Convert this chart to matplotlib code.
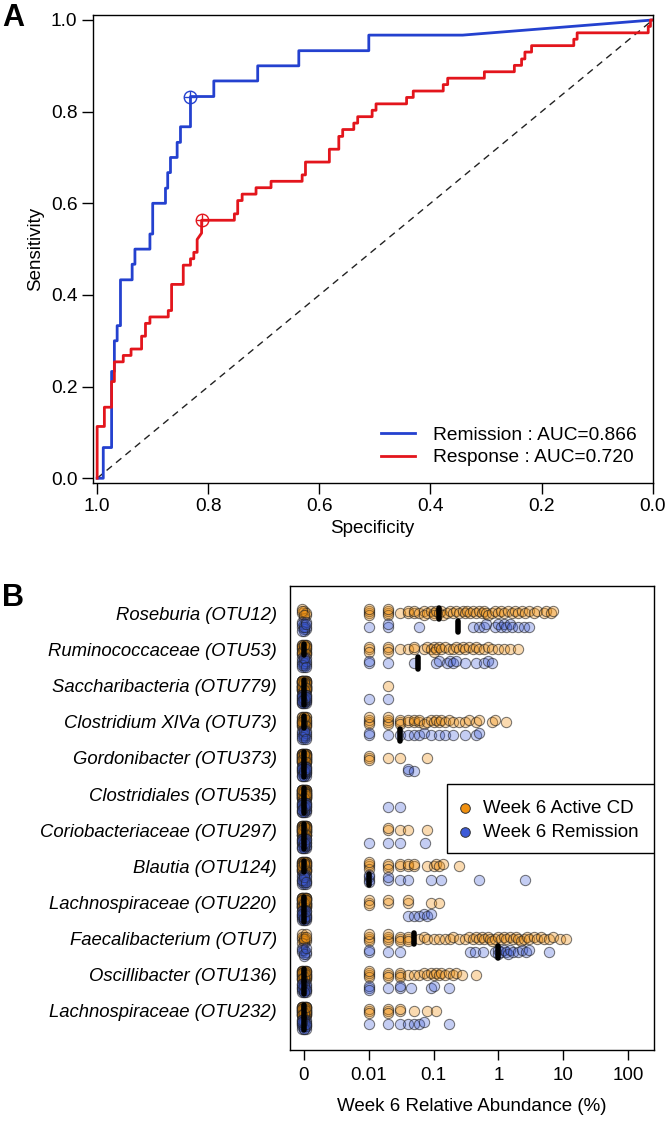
import numpy as np
import matplotlib
matplotlib.use("Agg")
import matplotlib.pyplot as plt
from matplotlib.patches import Rectangle

plt.rcParams['font.family'] = ['Liberation Sans', 'DejaVu Sans']

# ---------------- Panel A: ROC curves (specificity, sensitivity) ----------------
rem_spec = [1.0, 0.989, 0.989, 0.974, 0.974, 0.969, 0.969, 0.964, 0.964, 0.958, 0.958,
            0.937, 0.937, 0.932, 0.932, 0.905, 0.905, 0.900, 0.900, 0.877, 0.877,
            0.873, 0.873, 0.868, 0.868, 0.856, 0.856, 0.850, 0.850, 0.832, 0.832,
            0.790, 0.790, 0.711, 0.711, 0.637, 0.637, 0.511, 0.511, 0.342, 0.0]
rem_sens = [0.0, 0.0, 0.067, 0.067, 0.233, 0.233, 0.300, 0.300, 0.333, 0.333, 0.433,
            0.433, 0.467, 0.467, 0.500, 0.500, 0.533, 0.533, 0.600, 0.600, 0.633,
            0.633, 0.667, 0.667, 0.700, 0.700, 0.733, 0.733, 0.767, 0.767, 0.833,
            0.833, 0.867, 0.867, 0.900, 0.900, 0.933, 0.933, 0.967, 0.967, 1.0]

resp_spec = [1.0, 1.0, 0.987, 0.987, 0.974, 0.974, 0.969, 0.969, 0.953, 0.953, 0.939,
             0.939, 0.920, 0.920, 0.913, 0.913, 0.905, 0.905, 0.872, 0.872, 0.866,
             0.866, 0.845, 0.845, 0.832, 0.832, 0.826, 0.826, 0.820, 0.820, 0.812,
             0.812, 0.753, 0.753, 0.747, 0.747, 0.739, 0.739, 0.714, 0.714, 0.687,
             0.687, 0.631, 0.631, 0.625, 0.625, 0.582, 0.582, 0.565, 0.565, 0.558,
             0.558, 0.538, 0.538, 0.531, 0.531, 0.505, 0.505, 0.498, 0.498, 0.443,
             0.443, 0.431, 0.431, 0.377, 0.377, 0.369, 0.369, 0.303, 0.303, 0.249,
             0.249, 0.236, 0.236, 0.230, 0.230, 0.218, 0.218, 0.142, 0.142, 0.136,
             0.136, 0.008, 0.008, 0.004, 0.004, 0.0]
resp_sens = [0.0, 0.113, 0.113, 0.155, 0.155, 0.211, 0.211, 0.254, 0.254, 0.268, 0.268,
             0.282, 0.282, 0.310, 0.310, 0.338, 0.338, 0.352, 0.352, 0.366, 0.366,
             0.423, 0.423, 0.465, 0.465, 0.479, 0.479, 0.493, 0.493, 0.521, 0.535,
             0.563, 0.563, 0.577, 0.577, 0.606, 0.606, 0.620, 0.620, 0.634, 0.634,
             0.648, 0.648, 0.662, 0.662, 0.690, 0.690, 0.718, 0.718, 0.746, 0.746,
             0.761, 0.761, 0.775, 0.775, 0.789, 0.789, 0.803, 0.803, 0.817, 0.817,
             0.831, 0.831, 0.845, 0.845, 0.859, 0.859, 0.873, 0.873, 0.887, 0.887,
             0.901, 0.901, 0.915, 0.915, 0.930, 0.930, 0.944, 0.944, 0.958, 0.958,
             0.972, 0.972, 0.986, 0.986, 1.0, 1.0]

rem_best = (0.832, 0.833)
resp_best = (0.812, 0.563)
rem_auc = 0.866
resp_auc = 0.720

# ---------------- Panel B: relative abundance (%) at week 6 ----------------
otus = ['Roseburia (OTU12)', 'Ruminococcaceae (OTU53)', 'Saccharibacteria (OTU779)',
        'Clostridium XlVa (OTU73)', 'Gordonibacter (OTU373)', 'Clostridiales (OTU535)',
        'Coriobacteriaceae (OTU297)', 'Blautia (OTU124)', 'Lachnospiraceae (OTU220)',
        'Faecalibacterium (OTU7)', 'Oscillibacter (OTU136)', 'Lachnospiraceae (OTU232)']
n_active = 66
n_remission = 30

# non-zero values only; the rest of each group is 0
roseburia_active = [0.01, 0.01, 0.01, 0.01, 0.02, 0.02, 0.02, 0.02, 0.03, 0.04, 0.04, 0.05,
                    0.05, 0.06, 0.07, 0.07, 0.08, 0.09, 0.1, 0.1, 0.11, 0.12, 0.13, 0.14,
                    0.16, 0.18, 0.2, 0.22, 0.25, 0.28, 0.3, 0.33, 0.37, 0.4, 0.45, 0.5,
                    0.55, 0.6, 0.65, 0.7, 0.8, 0.9, 1.0, 1.1, 1.2, 1.4, 1.6, 1.8, 2.0,
                    2.3, 2.6, 3.0, 3.5, 4.0, 5.0, 5.5, 6.5, 7.0]
roseburia_rem = [0.01, 0.02, 0.02, 0.06, 0.4, 0.5, 0.6, 0.65, 0.9, 1.0, 1.1, 1.2, 1.3,
                 1.5, 1.6, 2.0, 2.5, 3.0]
rumino_active = [0.01, 0.01, 0.01, 0.02, 0.02, 0.02, 0.03, 0.04, 0.05, 0.05, 0.07, 0.08,
                 0.09, 0.1, 0.1, 0.11, 0.12, 0.13, 0.15, 0.17, 0.2, 0.22, 0.25, 0.28,
                 0.3, 0.35, 0.4, 0.45, 0.5, 0.6, 0.7, 0.8, 1.0, 1.2, 1.5, 2.0]
rumino_rem = [0.01, 0.01, 0.02, 0.05, 0.11, 0.12, 0.16, 0.18, 0.2, 0.22, 0.3, 0.45, 0.6,
              0.7, 0.8]
sacchari_active = [0.02]
sacchari_rem = [0.01, 0.02]
clostr73_active = [0.01, 0.01, 0.01, 0.01, 0.02, 0.02, 0.02, 0.02, 0.03, 0.03, 0.03, 0.04,
                   0.04, 0.05, 0.05, 0.06, 0.06, 0.07, 0.08, 0.09, 0.1, 0.11, 0.12, 0.13,
                   0.15, 0.17, 0.2, 0.25, 0.3, 0.35, 0.45, 0.5, 0.8, 0.9, 1.3]
clostr73_rem = [0.01, 0.01, 0.02, 0.03, 0.04, 0.05, 0.06, 0.07, 0.09, 0.12, 0.15, 0.2,
                0.3, 0.45, 0.5]
gordoni_active = [0.01, 0.01, 0.01, 0.02, 0.03, 0.08]
gordoni_rem = [0.04, 0.04, 0.05]
clostr535_active = []
clostr535_rem = [0.02, 0.03]
corio_active = [0.02, 0.02, 0.03, 0.04, 0.08]
corio_rem = [0.01, 0.02, 0.03, 0.075]
blautia_active = [0.01, 0.01, 0.01, 0.01, 0.02, 0.02, 0.02, 0.03, 0.03, 0.04, 0.04, 0.05,
                  0.05, 0.08, 0.1, 0.11, 0.12, 0.14, 0.25]
blautia_rem = [0.01, 0.01, 0.01, 0.01, 0.02, 0.02, 0.03, 0.04, 0.09, 0.13, 0.5, 2.6]
lachno220_active = [0.01, 0.01, 0.01, 0.02, 0.02, 0.04, 0.04, 0.09, 0.12]
lachno220_rem = [0.04, 0.05, 0.06, 0.07, 0.08, 0.09]
faecali_active = [0.01, 0.01, 0.01, 0.01, 0.02, 0.02, 0.02, 0.02, 0.03, 0.03, 0.03, 0.04,
                  0.04, 0.04, 0.06, 0.07, 0.08, 0.1, 0.12, 0.15, 0.18, 0.2, 0.25, 0.3,
                  0.35, 0.4, 0.45, 0.5, 0.55, 0.6, 0.7, 0.75, 0.8, 0.9, 1.0, 1.1, 1.2,
                  1.3, 1.5, 1.7, 1.9, 2.0, 2.2, 2.5, 2.8, 3.0, 3.5, 4.0, 4.5, 5.0, 6.0,
                  7.0, 9.0, 11.0]
faecali_rem = [0.01, 0.01, 0.02, 0.03, 0.36, 0.43, 0.57, 0.9, 1.0, 1.0, 1.1, 1.2, 1.3,
               1.4, 1.5, 1.7, 2.0, 2.3, 2.7, 3.0, 6.0]
oscilli_active = [0.01, 0.01, 0.01, 0.01, 0.02, 0.02, 0.02, 0.03, 0.03, 0.03, 0.04, 0.05,
                  0.06, 0.07, 0.08, 0.09, 0.1, 0.11, 0.12, 0.13, 0.15, 0.17, 0.2, 0.22,
                  0.27, 0.45]
oscilli_rem = [0.01, 0.01, 0.01, 0.02, 0.03, 0.03, 0.045, 0.09, 0.1, 0.17]
lachno232_active = [0.01, 0.01, 0.01, 0.02, 0.02, 0.02, 0.03, 0.03, 0.05, 0.08, 0.11]
lachno232_rem = [0.01, 0.02, 0.03, 0.04, 0.05, 0.06, 0.07, 0.17]

# medians drawn as black bars
active_median = [0.12, 0, 0, 0, 0, 0, 0, 0, 0, 0.05, 0, 0]
remission_median = [0.24, 0.057, 0, 0.03, 0, 0, 0, 0.01, 0, 1.0, 0, 0]

xtick_vals = [0, 0.01, 0.1, 1, 10, 100]
xtick_labels = ['0', '0.01', '0.1', '1', '10', '100']

active_groups = [roseburia_active, rumino_active, sacchari_active, clostr73_active,
                 gordoni_active, clostr535_active, corio_active, blautia_active,
                 lachno220_active, faecali_active, oscilli_active, lachno232_active]
rem_groups = [roseburia_rem, rumino_rem, sacchari_rem, clostr73_rem, gordoni_rem,
              clostr535_rem, corio_rem, blautia_rem, lachno220_rem, faecali_rem,
              oscilli_rem, lachno232_rem]

blue = '#2441cf'
red = '#e3151c'
orange = '#f0900f'
blue_pt = '#3c5ad8'

fig = plt.figure(figsize=(6.66, 11.24), dpi=100)

# ---------- A ----------
axA = fig.add_axes([0.1392, 0.5706, 0.8408, 0.4161])
axA.plot([1, 0], [0, 1], color='#222222', lw=1, linestyle=(0, (5, 3.8)))
axA.plot(rem_spec, rem_sens, color=blue, lw=2, label=f'Remission : AUC={rem_auc:.3f}')
axA.plot(resp_spec, resp_sens, color=red, lw=2, label=f'Response : AUC={resp_auc:.3f}')
for pt, c in [(rem_best, blue), (resp_best, red)]:
    axA.plot(pt[0], pt[1], marker='o', ms=9, mfc='none', mec=c, mew=1)
    axA.plot(pt[0], pt[1], marker='+', ms=9, mec=c, mew=1)
axA.set_xlim(1.008, 0.0)
axA.set_ylim(-0.0096, 1.011)
axA.set_xticks([1.0, 0.8, 0.6, 0.4, 0.2, 0.0])
axA.set_yticks([0.0, 0.2, 0.4, 0.6, 0.8, 1.0])
axA.xaxis.set_major_formatter(plt.FormatStrFormatter('%.1f'))
axA.yaxis.set_major_formatter(plt.FormatStrFormatter('%.1f'))
axA.tick_params(length=8, width=1, labelsize=13.8, pad=3)
axA.set_xlabel('Specificity', fontsize=13.5, labelpad=4)
axA.set_ylabel('Sensitivity', fontsize=13.5, labelpad=5)
for s in axA.spines.values():
    s.set_linewidth(1)
axA.legend(loc='lower right', frameon=False, fontsize=13.8, handlelength=1.8,
           handletextpad=0.9, labelspacing=0.25, borderaxespad=0.45)

fig.text(0.003, 0.997, 'A', fontsize=22, fontweight='bold', va='top', ha='left')
fig.text(0.003, 0.481, 'B', fontsize=22, fontweight='bold', va='top', ha='left')

# ---------- B ----------
def xpos(v):
    return np.log10(v) if v > 0 else -3.0


def swarm(xs, min_dx=0.07, dy=0.06):
    # simple deterministic swarm: spread overlapping points over a few vertical slots
    slots = [0, -1, 1, -2, 2]
    order = np.argsort(xs, kind='stable')
    placed = []
    offs = np.zeros(len(xs))
    for cnt, i in enumerate(order):
        chosen = None
        for s in slots:
            if all(abs(xs[i] - px) >= min_dx for px, ps in placed if ps == s):
                chosen = s
                break
        if chosen is None:
            chosen = slots[cnt % len(slots)]
        placed.append((xs[i], chosen))
        offs[i] = chosen * dy
    return offs


axB = fig.add_axes([0.4354, 0.0658, 0.5465, 0.4128])
blue_dy = 0.367
for k in range(len(otus)):
    for vals, n, dy, col, a in [(active_groups[k], n_active, 0.0, orange, 0.33),
                                (rem_groups[k], n_remission, blue_dy, blue_pt, 0.3)]:
        full = [0.0] * (n - len(vals)) + list(vals)
        xs = np.array([xpos(v) for v in full])
        offs = swarm(xs)
        xj = np.array([((j % 3) - 1) * 0.035 if full[j] == 0 else 0.0
                       for j in range(len(full))])
        axB.scatter(xs + xj, k + dy + offs, s=55,
                    facecolor=matplotlib.colors.to_rgba(col, a),
                    edgecolor=(0.12, 0.12, 0.12, 0.6), linewidth=0.75, zorder=2)
    for med, dy in [(active_median[k], 0.0), (remission_median[k], blue_dy)]:
        xm = xpos(med)
        axB.plot([xm, xm], [k + dy - 0.16, k + dy + 0.16], color='black', lw=4,
                 solid_capstyle='round', zorder=5)

axB.set_xlim(-3.216, 2.40)
axB.set_ylim(12.08, -0.754)
axB.set_xticks([xpos(v) for v in xtick_vals])
axB.set_xticklabels(xtick_labels)
axB.set_yticks(range(len(otus)))
axB.set_yticklabels(otus, fontstyle='italic')
axB.tick_params(axis='x', length=7, width=1, labelsize=13.5, pad=5)
axB.tick_params(axis='y', length=0, labelsize=13.3, pad=9.5)
axB.set_xlabel('Week 6 Relative Abundance (%)', fontsize=13.5, labelpad=10)
for s in axB.spines.values():
    s.set_linewidth(1)

# legend box (drawn in axes coordinates)
axB.add_patch(Rectangle((0.4313, 0.4246), 0.5687, 0.1487, transform=axB.transAxes,
                        facecolor='white', edgecolor='black', lw=1, zorder=8))
leg_labels = ['Week 6 Active CD', 'Week 6 Remission']
leg_colors = [orange, blue_pt]
leg_y = [0.5216, 0.4698]
for lab, c, yy in zip(leg_labels, leg_colors, leg_y):
    axB.scatter([0.4808], [yy], s=48, transform=axB.transAxes, facecolor=c,
                edgecolor='#333333', linewidth=0.7, zorder=9, clip_on=False)
    axB.text(0.5294, yy, lab, transform=axB.transAxes, fontsize=13.5,
             va='center', ha='left', zorder=9)

fig.savefig('out.png', dpi=100)
